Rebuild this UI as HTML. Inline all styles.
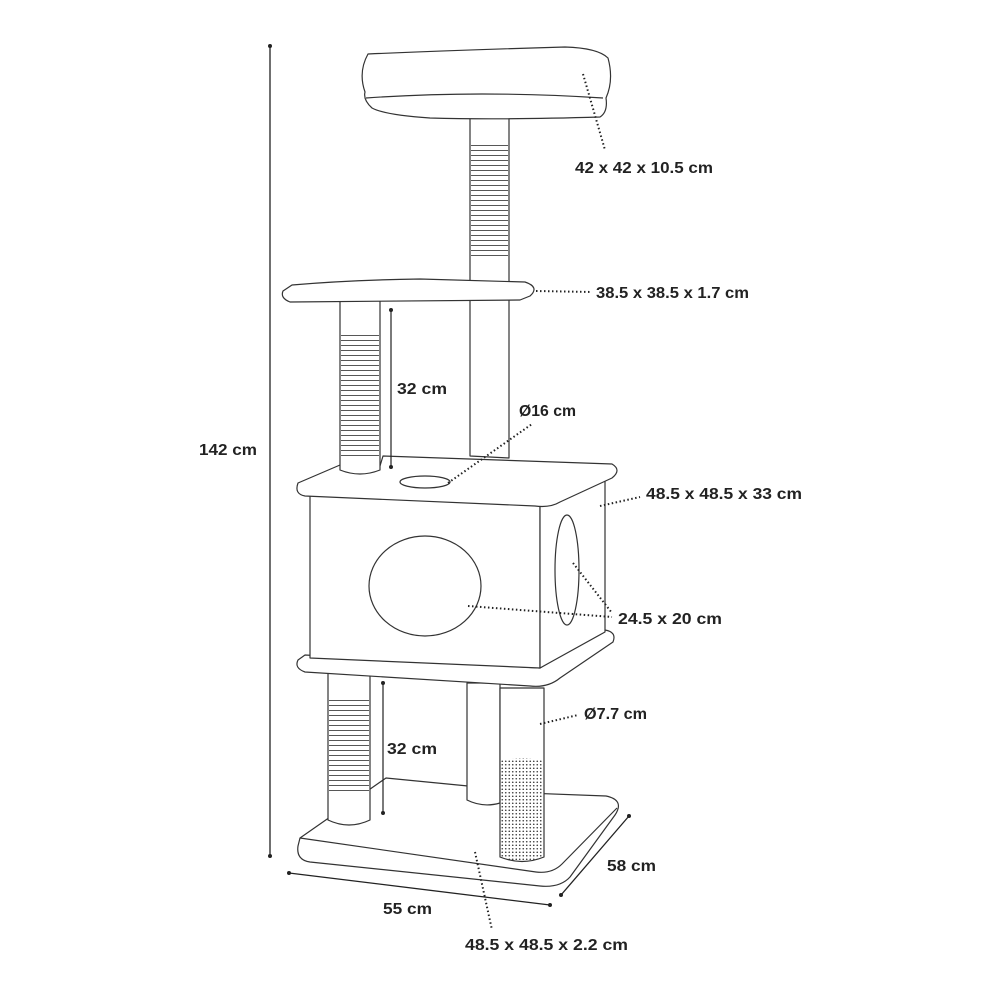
<!DOCTYPE html>
<html><head><meta charset="utf-8"><style>
html,body{margin:0;padding:0;background:#fff;}
svg{display:block;}
text{font-family:"Liberation Sans",sans-serif;font-size:16px;font-weight:bold;fill:#222;}
.l{fill:#fff;stroke:#333;stroke-width:1.2;stroke-linejoin:round;}
.n{fill:none;stroke:#333;stroke-width:1.2;}
.d{fill:none;stroke:#222;stroke-width:2;stroke-dasharray:1.5 2.5;}
</style></head><body>
<svg width="1000" height="1000" viewBox="0 0 1000 1000" xmlns="http://www.w3.org/2000/svg">
<defs>
<pattern id="dots" width="3.5" height="3.5" patternUnits="userSpaceOnUse"><circle cx="1.75" cy="1.75" r="0.8" fill="#333"/></pattern>
<pattern id="str" width="10" height="5" patternUnits="userSpaceOnUse"><line x1="0" y1="0.5" x2="10" y2="0.5" stroke="#444" stroke-width="0.9"/></pattern>
</defs>

<line x1="270" y1="46" x2="270" y2="856" stroke="#222" stroke-width="1.3"/>
<circle cx="270" cy="46" r="2" fill="#222"/><circle cx="270" cy="856" r="2" fill="#222"/>
<text x="199" y="455" textLength="58" lengthAdjust="spacingAndGlyphs">142 cm</text>

<!-- Base -->
<path class="l" d="M386,778 L468,786 L468,800 L500,800 L500,792 L606,796 Q625,800 615,815 L570,877 Q560,888 540,886 L310,862 Q296,860 298,846 L300,838 Z"/>
<path class="n" d="M300,838 L536,872 Q552,874 562,864 L617,808"/>

<path class="l" d="M467,683 L467,800 Q483,808 500,803 L500,683 Z"/>
<path class="l" d="M328,673 L328,820 Q349,830 370,820 L370,673 Z"/>
<rect x="329" y="700" width="40" height="91" fill="url(#str)"/>
<path class="l" d="M500,688 L500,857 Q522,866 544,857 L544,688 Z"/>
<path d="M501,760 Q522,756 543,760 L543,857 Q522,865 501,857 Z" fill="url(#dots)"/>

<path class="l" d="M305,655 L540,668 L605,630 Q617,632 613,642 L560,678 Q548,688 530,686 L305,672 Q294,668 298,660 Z"/>

<path class="l" d="M310,492 L540,505 L540,668 L310,658 Z"/>
<path class="l" d="M540,505 L605,475 L605,632 L540,668 Z"/>
<ellipse class="l" cx="425" cy="586" rx="56" ry="50"/>
<ellipse class="l" cx="567" cy="570" rx="12" ry="55"/>

<path class="l" d="M298,483 L340,465 L380,466 L383,456 L612,464 Q622,470 612,478 L560,502 Q550,508 535,506 L305,496 Q294,494 298,483 Z"/>
<ellipse class="l" cx="425" cy="482" rx="25" ry="6"/>

<path class="l" d="M470,110 L509,110 L509,458 L470,456 Z"/>
<rect x="471" y="142" width="37" height="117" fill="url(#str)"/>
<path class="l" d="M340,298 L380,298 L380,470 Q360,478 340,470 Z"/>
<rect x="341" y="332" width="38" height="128" fill="url(#str)"/>

<path class="l" d="M292,285 Q350,280 420,279 L525,282 Q540,287 530,296 L520,300 L290,302 Q280,298 283,291 Z"/>

<!-- top bed -->
<path class="l" d="M368,54 Q460,50 565,47 Q598,48 608,58 Q614,80 606,98 Q608,112 600,117 Q500,120 430,118 Q385,115 372,108 Q363,100 365,92 Q358,72 368,54 Z"/>
<path class="n" d="M366,98 Q480,90 603,98"/>

<line x1="391" y1="310" x2="391" y2="467" stroke="#222" stroke-width="1.2"/>
<circle cx="391" cy="310" r="2" fill="#222"/><circle cx="391" cy="467" r="2" fill="#222"/>
<line x1="383" y1="683" x2="383" y2="813" stroke="#222" stroke-width="1.2"/>
<circle cx="383" cy="683" r="2" fill="#222"/><circle cx="383" cy="813" r="2" fill="#222"/>

<line x1="289" y1="873" x2="550" y2="905" stroke="#222" stroke-width="1.3"/>
<circle cx="289" cy="873" r="2" fill="#222"/><circle cx="550" cy="905" r="2" fill="#222"/>
<line x1="561" y1="895" x2="629" y2="816" stroke="#222" stroke-width="1.3"/>
<circle cx="561" cy="895" r="2" fill="#222"/><circle cx="629" cy="816" r="2" fill="#222"/>

<path class="d" d="M583,74 L605,150"/>
<path class="d" d="M536,291 L592,292"/>
<path class="d" d="M448,483 L532,424"/>
<path class="d" d="M600,506 L640,497"/>
<path class="d" d="M468,606 L612,617"/>
<path class="d" d="M573,563 L612,613"/>
<path class="d" d="M540,724 L578,715"/>
<path class="d" d="M475,852 L492,930"/>

<text x="575" y="173" textLength="138" lengthAdjust="spacingAndGlyphs">42 x 42 x 10.5 cm</text>
<text x="596" y="298" textLength="153" lengthAdjust="spacingAndGlyphs">38.5 x 38.5 x 1.7 cm</text>
<text x="397" y="394" textLength="50" lengthAdjust="spacingAndGlyphs">32 cm</text>
<text x="519" y="416" textLength="57" lengthAdjust="spacingAndGlyphs">Ø16 cm</text>
<text x="646" y="499" textLength="156" lengthAdjust="spacingAndGlyphs">48.5 x 48.5 x 33 cm</text>
<text x="618" y="624" textLength="104" lengthAdjust="spacingAndGlyphs">24.5 x 20 cm</text>
<text x="584" y="719" textLength="63" lengthAdjust="spacingAndGlyphs">Ø7.7 cm</text>
<text x="387" y="754" textLength="50" lengthAdjust="spacingAndGlyphs">32 cm</text>
<text x="607" y="871" textLength="49" lengthAdjust="spacingAndGlyphs">58 cm</text>
<text x="383" y="914" textLength="49" lengthAdjust="spacingAndGlyphs">55 cm</text>
<text x="465" y="950" textLength="163" lengthAdjust="spacingAndGlyphs">48.5 x 48.5 x 2.2 cm</text>
</svg>
</body></html>
